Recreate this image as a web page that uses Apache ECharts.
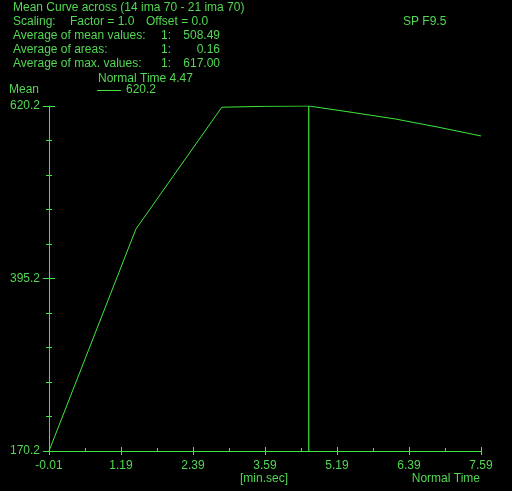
<!DOCTYPE html>
<html>
<head>
<meta charset="utf-8">
<script src="https://cdn.jsdelivr.net/npm/echarts@6/dist/echarts.min.js"></script>
<style>
  html, body { margin: 0; padding: 0; background: #000; }
  #chart { width: 512px; height: 491px; }
</style>
</head>
<body>
<div id="chart"></div>
<script>
// curve samples (minutes, mean value)
const times = [-0.01, 1.52, 3.03, 3.81, 4.56, 5.34, 6.09, 6.87, 7.59];
const means = [170.2, 459.8, 618.6, 619.8, 620.2, 611.7, 603.2, 592.1, 581.1];
const normalTimeX = 4.56;
const normalTimeLabel = "4.47";

const xLabels = ["-0.01", "1.19", "2.39", "3.59", "5.19", "6.39", "7.59"];
const yLabels = ["170.2", "395.2", "620.2"];
const yMinorStep = 45;

const headerLines = [
  "Mean Curve across (14 ima 70 - 21 ima 70)",
  "Scaling:",
  "Average of mean values:",
  "Average of areas:",
  "Average of max. values:",
];
const statIdx = ["", "", "1:", "1:", "1:"];
const statVals = ["", "", "508.49", "0.16", "617.00"];

const GREEN = "#3ee83e";
const TEXT = "#52d852";
const FONT = "Liberation Sans, Arial, sans-serif";

const xMin = -0.01, xMax = 7.59;
const yMin = 170.2, yMax = 620.2;
const xStep = (xMax - xMin) / (xLabels.length - 1);
const xMajor = xLabels.map((_, i) => xMin + i * xStep);
const xMinor = xMajor.slice(1).map((v) => v - xStep / 2);
const yMajor = yLabels.map(Number);
const yMinor = [];
for (let v = yMin + yMinorStep; v < yMax - 1; v += yMinorStep) {
  if (!yMajor.some((m) => Math.abs(m - v) < 1)) yMinor.push(v);
}

const chart = echarts.init(document.getElementById("chart"), null, { renderer: "canvas" });

function tickAxis(position, min, max, values, offset, len) {
  return {
    type: "value",
    position: position,
    min: min,
    max: max,
    offset: offset,
    axisLine: { show: false },
    splitLine: { show: false },
    axisLabel: { show: false },
    axisTick: { show: true, customValues: values, length: len, lineStyle: { color: GREEN, width: 1 } },
  };
}

function txt(x, y, s, right) {
  const el = { type: "text", top: y, style: { text: s, fill: TEXT, font: "12px " + FONT } };
  if (right !== undefined) el.right = right; else el.left = x;
  return el;
}

const texts = [];
headerLines.forEach((t, i) => {
  texts.push(txt(13, 2 + i * 14, t));
  if (statIdx[i]) {
    texts.push(txt(161, 2 + i * 14, statIdx[i]));
    texts.push(txt(0, 2 + i * 14, statVals[i], 292));
  }
});
texts.push(txt(70, 16, "Factor = 1.0"));
texts.push(txt(146, 16, "Offset = 0.0"));
texts.push(txt(403, 16, "SP F9.5"));
texts.push(txt(98, 73, "Normal Time " + normalTimeLabel));
texts.push(txt(9, 84, "Mean"));
texts.push({ type: "line", shape: { x1: 97, y1: 90.5, x2: 121, y2: 90.5 }, style: { stroke: GREEN, lineWidth: 1 } });
texts.push(txt(126, 84, yLabels[2]));
texts.push(txt(240, 473, "[min.sec]"));
texts.push(txt(0, 473, "Normal Time", 32));

chart.setOption({
  backgroundColor: "#000",
  animation: false,
  textStyle: { fontFamily: FONT },
  grid: { left: 49, right: 31, top: 106, bottom: 40 },
  xAxis: [
    {
      type: "value", position: "bottom", min: xMin, max: xMax,
      axisLine: { show: true, lineStyle: { color: GREEN, width: 1 } },
      axisTick: { show: false },
      splitLine: { show: false },
      axisLabel: {
        show: true, customValues: xMajor, color: TEXT, fontSize: 12, margin: 9,
        formatter: (v) => xLabels[Math.round((v - xMin) / xStep)],
      },
    },
    tickAxis("bottom", xMin, xMax, xMajor, -4, 8),
    tickAxis("bottom", xMin, xMax, xMinor, -3, 3),
  ],
  yAxis: [
    {
      type: "value", position: "left", min: yMin, max: yMax,
      axisLine: { show: true, lineStyle: { color: GREEN, width: 1 } },
      axisTick: { show: false },
      splitLine: { show: false },
      axisLabel: {
        show: true, customValues: yMajor, color: TEXT, fontSize: 12, margin: 9,
        formatter: (v) => yLabels[yMajor.findIndex((m) => Math.abs(m - v) < 0.01)],
      },
    },
    tickAxis("left", yMin, yMax, yMajor, -6, 12),
    tickAxis("left", yMin, yMax, yMinor, -3, 6),
  ],
  graphic: texts,
  series: [
    {
      type: "line",
      name: yLabels[2],
      data: times.map((t, i) => [t, means[i]]),
      symbol: "none",
      silent: true,
      lineStyle: { color: GREEN, width: 1 },
    },
    {
      // normal time marker
      type: "line",
      data: [[normalTimeX, yMin], [normalTimeX, yMax]],
      symbol: "none",
      silent: true,
      lineStyle: { color: GREEN, width: 1.2 },
    },
  ],
});
</script>
</body>
</html>
